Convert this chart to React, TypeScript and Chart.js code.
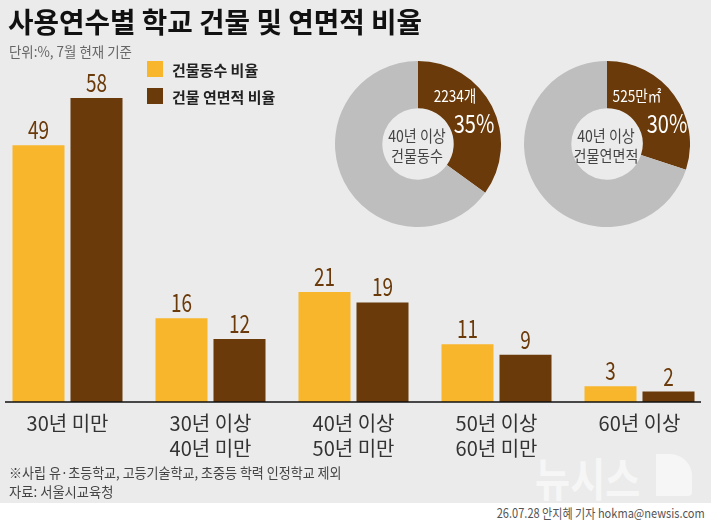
import React, { useEffect, useRef } from 'react';
import { Chart, registerables } from 'chart.js';

Chart.register(...registerables);

// ---------- data ----------
const categories: string[][] = [
  ['30년 미만'],
  ['30년 이상', '40년 미만'],
  ['40년 이상', '50년 미만'],
  ['50년 이상', '60년 미만'],
  ['60년 이상'],
];
const seriesNames = ['건물동수 비율', '건물 연면적 비율'];
const buildingCountPct = [49, 16, 21, 11, 3];
const floorAreaPct = [58, 12, 19, 9, 2];

const donutLabels = ['40년 이상', '40년 미만'];
const donutCountShare = [35, 65];
const donutAreaShare = [30, 70];

const titleText = '사용연수별 학교 건물 및 연면적 비율';
const unitText = '단위:%, 7월 현재 기준';
const noteText = '※사립 유·초등학교, 고등기술학교, 초중등 학력 인정학교 제외';
const sourceText = '자료: 서울시교육청';
const creditText = '26.07.28 안지혜 기자 hokma@newsis.com';

// ---------- styles ----------
const YELLOW = '#f8b62d';
const BROWN = '#6a3a0a';
const GRAY = '#bebebe';
const BG = '#ebebeb';
const FONT = '"Noto Sans CJK KR", "Noto Sans", sans-serif';

const valueLabels = {
  id: 'valueLabels',
  afterDatasetsDraw(chart: any) {
    const ctx = chart.ctx;
    const y = chart.chartArea.bottom;
    ctx.save();
    ctx.strokeStyle = '#111';
    ctx.lineWidth = 1.5;
    ctx.beginPath();
    ctx.moveTo(9, y);
    ctx.lineTo(705, y);
    ctx.stroke();
    ctx.restore();
    chart.data.datasets.forEach((ds: any, di: number) => {
      const meta = chart.getDatasetMeta(di);
      meta.data.forEach((bar: any, i: number) => {
        ctx.save();
        ctx.translate(bar.x, bar.y - 6);
        ctx.scale(0.76, 1);
        ctx.font = `400 25px ${FONT}`;
        ctx.fillStyle = BROWN;
        ctx.textAlign = 'center';
        ctx.textBaseline = 'alphabetic';
        ctx.fillText(String(ds.data[i]), 0, 0);
        ctx.restore();
      });
    });
  },
};

function BarChart() {
  const ref = useRef<HTMLCanvasElement>(null);
  useEffect(() => {
    const chart = new Chart(ref.current as HTMLCanvasElement, {
      type: 'bar',
      data: {
        labels: categories as any,
        datasets: [
          {
            label: seriesNames[0],
            data: buildingCountPct,
            backgroundColor: YELLOW,
            borderWidth: 0,
            categoryPercentage: 0.811,
            barPercentage: 0.897,
          },
          {
            label: seriesNames[1],
            data: floorAreaPct,
            backgroundColor: BROWN,
            borderWidth: 0,
            categoryPercentage: 0.811,
            barPercentage: 0.897,
          },
        ],
      },
      options: {
        responsive: false,
        maintainAspectRatio: false,
        animation: false,
        events: [],
        layout: { padding: { top: 35.2, left: 0, right: 0, bottom: 0 } },
        plugins: { legend: { display: false }, tooltip: { enabled: false } },
        scales: {
          x: {
            grid: { display: false, drawTicks: false },
            border: { display: false },
            ticks: {
              color: '#333',
              padding: 9,
              font: { family: FONT, size: 20, lineHeight: 1.25 },
              maxRotation: 0,
              autoSkip: false,
            },
            afterFit: (axis: any) => {
              axis.height = 101;
            },
          },
          y: { display: false, min: 0, max: 70 },
        },
      },
      plugins: [valueLabels],
    });
    return () => chart.destroy();
  }, []);
  return (
    <canvas
      ref={ref}
      width={715}
      height={503}
      style={{ position: 'absolute', left: -4, top: 0, width: 715, height: 503 }}
    />
  );
}

function Donut({ data, left, top }: { data: number[]; left: number; top: number }) {
  const ref = useRef<HTMLCanvasElement>(null);
  useEffect(() => {
    const chart = new Chart(ref.current as HTMLCanvasElement, {
      type: 'doughnut',
      data: {
        labels: donutLabels,
        datasets: [{ data, backgroundColor: [BROWN, GRAY], borderWidth: 0 }],
      },
      options: {
        responsive: false,
        maintainAspectRatio: false,
        animation: false,
        events: [],
        cutout: '43%',
        layout: { padding: 0 },
        plugins: { legend: { display: false }, tooltip: { enabled: false } },
      },
    });
    return () => chart.destroy();
  }, []);
  return (
    <canvas
      ref={ref}
      width={166}
      height={166}
      style={{ position: 'absolute', left, top, width: 166, height: 166 }}
    />
  );
}

type TP = {
  x: number;
  y: number;
  size: number;
  color?: string;
  weight?: number;
  sx?: number;
  align?: 'left' | 'center' | 'right';
  children: React.ReactNode;
};

function T({ x, y, size, color = '#222', weight = 400, sx = 1, align = 'center', children }: TP) {
  let transform = '';
  let origin = 'center center';
  const style: React.CSSProperties = {
    position: 'absolute',
    top: y - size / 2,
    fontFamily: FONT,
    fontSize: size,
    lineHeight: `${size}px`,
    fontWeight: weight,
    color,
    whiteSpace: 'nowrap',
  };
  if (align === 'center') {
    style.left = x;
    transform = `translateX(-50%) scaleX(${sx})`;
  } else if (align === 'left') {
    style.left = x;
    transform = `scaleX(${sx})`;
    origin = 'left center';
  } else {
    style.right = 711 - x;
    transform = `scaleX(${sx})`;
    origin = 'right center';
  }
  style.transform = transform;
  style.transformOrigin = origin;
  return <div style={style}>{children}</div>;
}

export default function App() {
  return (
    <div
      style={{
        position: 'absolute',
        left: 0,
        top: 0,
        width: 711,
        height: 522,
        background: '#ffffff',
        overflow: 'hidden',
      }}
    >
      <div style={{ position: 'absolute', left: 0, top: 0, width: 711, height: 503, background: BG }} />

      {/* watermark */}
      <T x={535} y={476} size={46} color="#f6f6f6" weight={700} sx={0.83} align="left">
        뉴시스
      </T>
      <div
        style={{
          position: 'absolute',
          left: 656,
          top: 454,
          width: 36,
          height: 42,
          background: '#f6f6f6',
          borderRadius: '0 22px 4px 0',
        }}
      />

      <BarChart />

      <Donut data={donutCountShare} left={335} top={61} />
      <Donut data={donutAreaShare} left={524} top={61} />

      {/* title */}
      <T x={8} y={21} size={28} color="#111" weight={700} sx={0.99} align="left">
        {titleText}
      </T>
      <T x={9} y={51} size={14} color="#666" sx={0.96} align="left">
        {unitText}
      </T>

      {/* legend */}
      <div style={{ position: 'absolute', left: 147, top: 61, width: 16, height: 16, background: YELLOW }} />
      <div style={{ position: 'absolute', left: 147, top: 88, width: 16, height: 16, background: BROWN }} />
      <T x={172} y={69} size={15} color="#222" weight={700} sx={1} align="left">
        {seriesNames[0]}
      </T>
      <T x={172} y={96} size={15} color="#222" weight={700} sx={1} align="left">
        {seriesNames[1]}
      </T>

      {/* donut 1 labels */}
      <T x={455} y={95} size={16} color="#fff" sx={0.85}>
        2234개
      </T>
      <T x={474} y={122} size={25} color="#fff" weight={400} sx={0.8}>
        {donutCountShare[0]}%
      </T>
      <T x={417} y={135} size={16} color="#444" sx={0.88}>
        40년 이상
      </T>
      <T x={417} y={155} size={16} color="#444" sx={0.88}>
        건물동수
      </T>

      {/* donut 2 labels */}
      <T x={637} y={95} size={16} color="#fff" sx={0.85}>
        525만㎡
      </T>
      <T x={667} y={122} size={25} color="#fff" weight={400} sx={0.8}>
        {donutAreaShare[0]}%
      </T>
      <T x={606} y={135} size={16} color="#444" sx={0.88}>
        40년 이상
      </T>
      <T x={606} y={155} size={16} color="#444" sx={0.88}>
        건물연면적
      </T>

      {/* footer */}
      <T x={9} y={472} size={14} color="#444" sx={0.93} align="left">
        {noteText}
      </T>
      <T x={9} y={491} size={14} color="#444" sx={0.95} align="left">
        {sourceText}
      </T>
      <T x={705} y={512} size={13} color="#555" sx={0.85} align="right">
        {creditText}
      </T>
    </div>
  );
}
